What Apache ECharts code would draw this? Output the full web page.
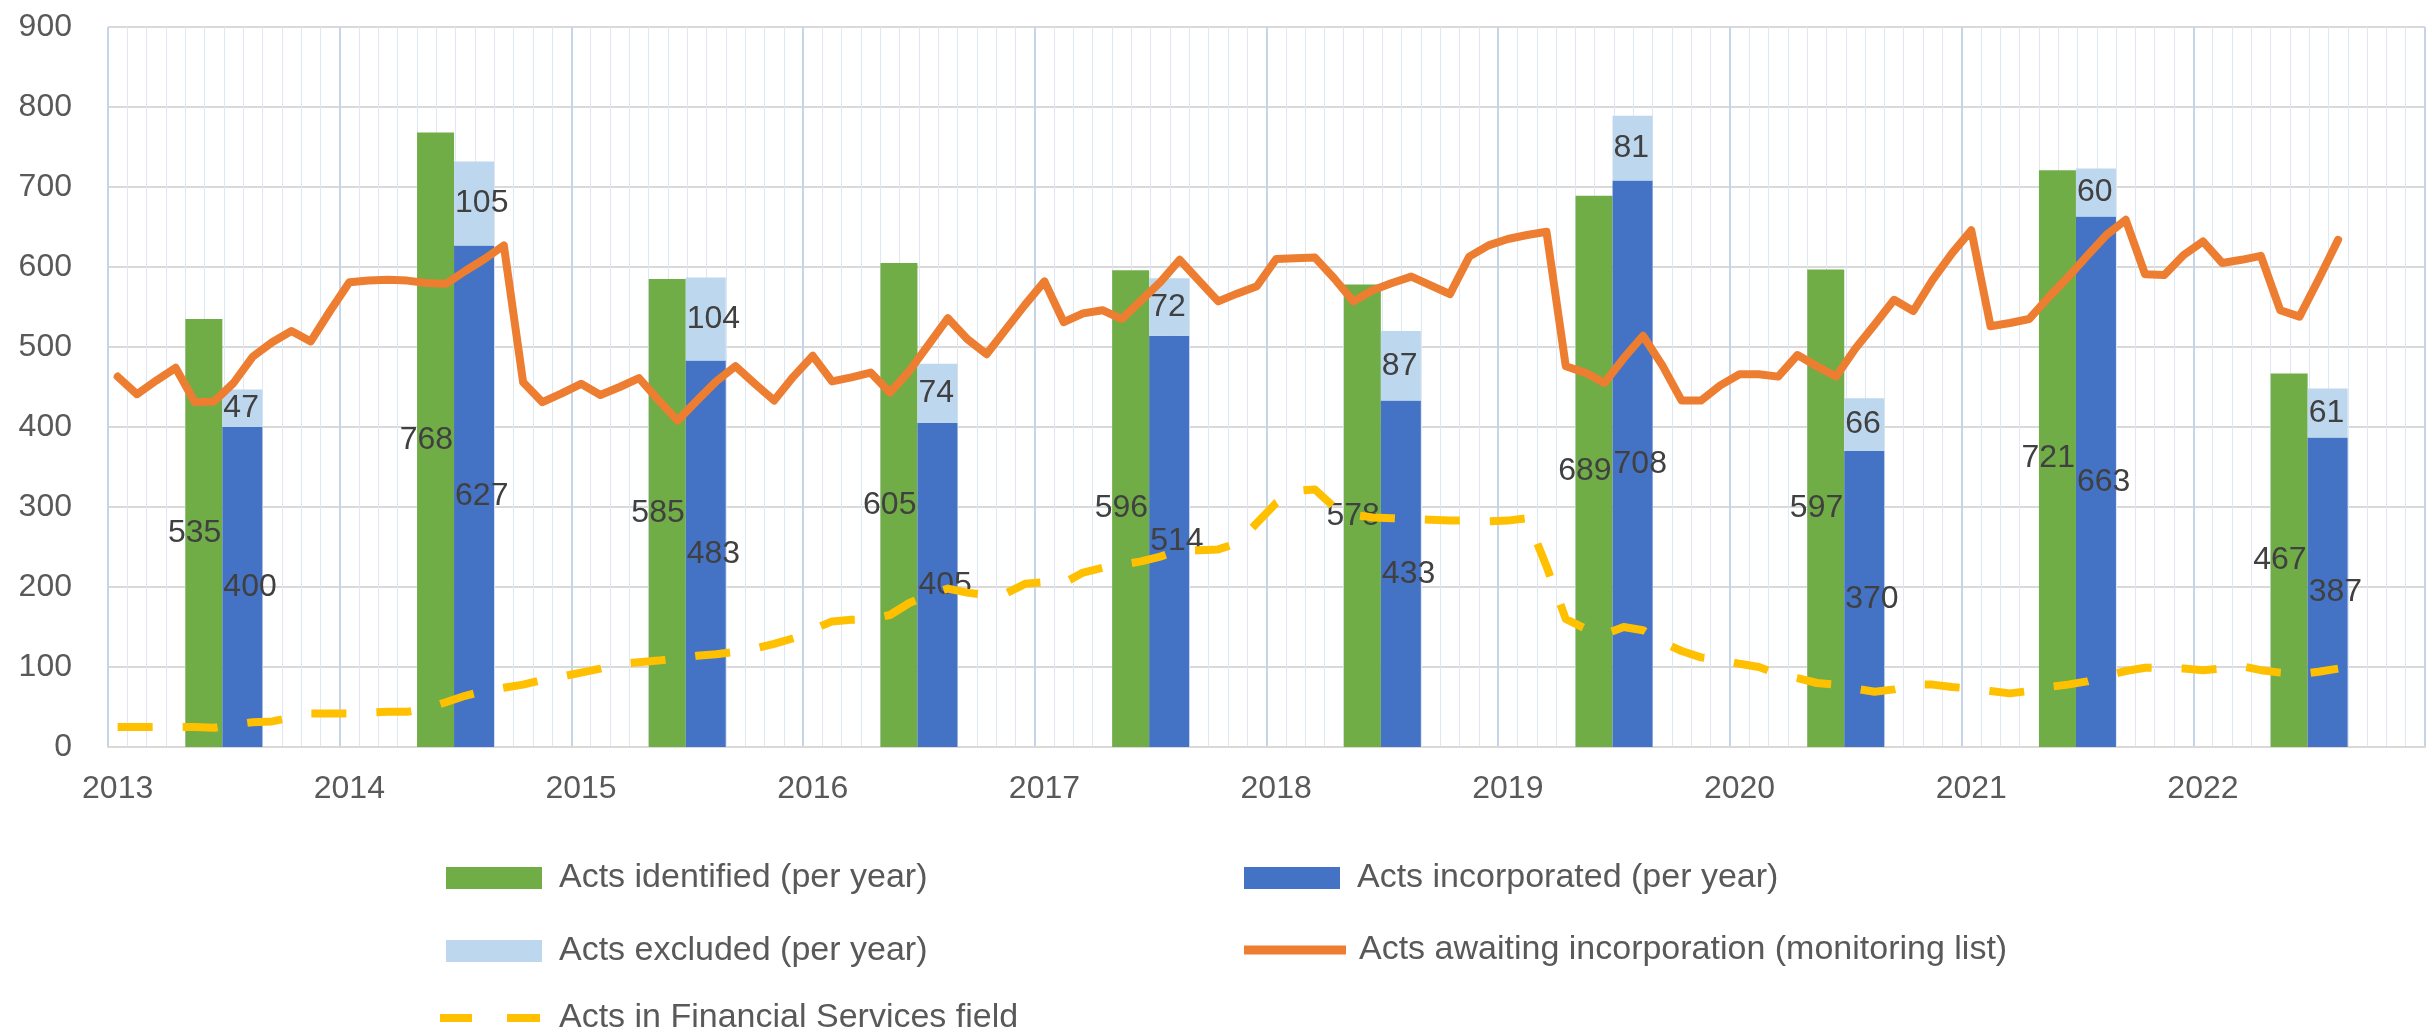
<!DOCTYPE html>
<html>
<head>
<meta charset="utf-8">
<script src="https://cdn.jsdelivr.net/npm/echarts@6/dist/echarts.min.js"></script>
<style>
html,body{margin:0;padding:0;background:#fff;}
#chart{width:2433px;height:1034px;}
</style>
</head>
<body>
<div id="chart"></div>
<script>
// ---- data ----
const years = ['2013','2014','2015','2016','2017','2018','2019','2020','2021','2022'];
const identified   = [535, 768, 585, 605, 596, 578, 689, 597, 721, 467];
const incorporated = [400, 627, 483, 405, 514, 433, 708, 370, 663, 387];
const excluded     = [ 47, 105, 104,  74,  72,  87,  81,  66,  60,  61];

// monthly series (Jan 2013 ... Aug 2022)
const awaiting = [
  463,441,458,474,431,432,455,488,506,520,507,545,
  581,583,584,583,580,579,595,610,627,456,431,442,
  454,440,450,461,434,408,433,457,476,454,433,463,
  489,457,462,468,443,470,503,536,510,491,522,553,
  582,531,542,546,535,558,581,609,583,557,567,576,
  610,611,612,586,557,571,580,588,577,566,613,627,
  635,640,644,476,468,455,486,514,477,433,433,452,
  466,466,463,490,476,463,498,528,559,545,584,617,
  646,526,530,535,562,587,614,640,659,591,590,615,
  632,605,609,614,546,538,585,634
];
const financial = [
   25, 25, 25, 25, 25, 24, 28, 31, 32, 37, 42, 42,
   42, 43, 44, 44, 48, 56, 64, 70, 74, 78, 84, 88,
   93, 98,104,106,108,111,114,116,119,123,129,136,
  147,157,159,160,165,180,190,198,193,190,192,204,
  206,205,218,224,228,232,238,246,246,247,255,280,
  305,320,322,300,290,287,286,285,284,283,283,282,
  283,286,226,160,148,141,150,146,131,120,112,109,
  104,100, 91, 86, 80, 78, 73, 69, 72, 78, 78, 75,
   73, 70, 67, 70, 75, 78, 82, 89, 95, 99, 99, 98,
   96, 98,101, 96, 93, 91, 94, 98
];
const yMin = 0, yMax = 900, yStep = 100;

const months = [];
years.forEach(y => { for (let m = 1; m <= 12; m++) months.push(y + '-' + (m < 10 ? '0' + m : m)); });

const FONT = "'Liberation Sans', Arial, sans-serif";
const LBL = '#404040';
const AX = '#595959';
const LEGEND_FS = 34;

const chart = echarts.init(document.getElementById('chart'), null, {renderer: 'canvas'});

function legendAt(name, left, top, opts) {
  return Object.assign({
    data: [name],
    left: left, top: top,
    orient: 'horizontal',
    selectedMode: false,
    itemWidth: 96, itemHeight: 22,
    icon: 'rect',
    padding: 0,
    textStyle: {fontFamily: FONT, fontSize: LEGEND_FS, color: AX, padding: [0, 0, 0, 12]}
  }, opts || {});
}

const labelCommon = {
  show: true, color: LBL, fontFamily: FONT, fontSize: 32,
  textBorderWidth: 0, distance: 1
};

chart.setOption({
  animation: false,
  backgroundColor: '#fff',
  grid: {left: 108, right: 8, top: 27, bottom: 287, containLabel: false},
  legend: [
    legendAt('Acts identified (per year)', 446, 861),
    legendAt('Acts incorporated (per year)', 1244, 861),
    legendAt('Acts excluded (per year)', 446, 934),
    legendAt('Acts awaiting incorporation (monitoring list)', 1244, 933,
      {itemWidth: 102, itemHeight: 9, icon: 'rect', textStyle: {fontFamily: FONT, fontSize: LEGEND_FS, color: AX, padding: [0,0,0,8]}}),
    legendAt('Acts in Financial Services field', 440, 1001,
      {itemWidth: 100, itemHeight: 8, icon: 'path://M0 0H32V8H0Z M67 0H100V8H67Z', textStyle: {fontFamily: FONT, fontSize: LEGEND_FS, color: AX, padding: [0,0,0,14]}})
  ],
  xAxis: [
    {
      type: 'category', data: months, boundaryGap: true,
      axisLine: {show: true, lineStyle: {color: '#d9d9d9', width: 2}},
      axisTick: {show: false},
      axisLabel: {
        interval: (idx) => idx % 12 === 0,
        formatter: (v) => v.slice(0, 4),
        fontFamily: FONT, fontSize: 32, color: AX, margin: 26
      },
      splitLine: {show: true, interval: 0, lineStyle: {color: '#dfe7f2', width: 1}}
    },
    {
      type: 'category', data: years, boundaryGap: true, position: 'bottom',
      axisLine: {show: false}, axisTick: {show: false}, axisLabel: {show: false},
      splitLine: {show: true, interval: 0, lineStyle: {color: '#c6d4e8', width: 2}}
    }
  ],
  yAxis: {
    type: 'value', min: yMin, max: yMax, interval: yStep,
    axisLine: {show: false}, axisTick: {show: false},
    axisLabel: {fontFamily: FONT, fontSize: 32, color: AX, margin: 36},
    splitLine: {show: true, lineStyle: {color: '#d9d9d9', width: 2}}
  },
  series: [
    {
      name: 'Acts identified (per year)', type: 'bar', xAxisIndex: 1,
      data: identified, barWidth: 37, barGap: '0%',
      itemStyle: {color: '#70AD47'}, z: 2,
      label: Object.assign({}, labelCommon, {position: 'insideRight', align: 'right'})
    },
    {
      name: 'Acts incorporated (per year)', type: 'bar', xAxisIndex: 1, stack: 'inc',
      data: incorporated, barWidth: 40, barGap: '0%',
      itemStyle: {color: '#4472C4'}, z: 2,
      label: Object.assign({}, labelCommon, {position: 'insideLeft', align: 'left'})
    },
    {
      name: 'Acts excluded (per year)', type: 'bar', xAxisIndex: 1, stack: 'inc',
      data: excluded, barWidth: 40, barGap: '0%',
      itemStyle: {color: '#BDD7EE'}, z: 2,
      label: Object.assign({}, labelCommon, {position: 'insideLeft', align: 'left'})
    },
    {
      name: 'Acts awaiting incorporation (monitoring list)', type: 'line', xAxisIndex: 0,
      data: awaiting, symbol: 'none', showSymbol: false, z: 5,
      lineStyle: {color: '#ED7D31', width: 8, join: 'round', cap: 'round'},
      itemStyle: {color: '#ED7D31'}
    },
    {
      name: 'Acts in Financial Services field', type: 'line', xAxisIndex: 0,
      data: financial, symbol: 'none', showSymbol: false, z: 6,
      lineStyle: {color: '#FFC000', width: 8, type: [35, 30], join: 'round'},
      itemStyle: {color: '#FFC000'}
    }
  ]
});
</script>
</body>
</html>
